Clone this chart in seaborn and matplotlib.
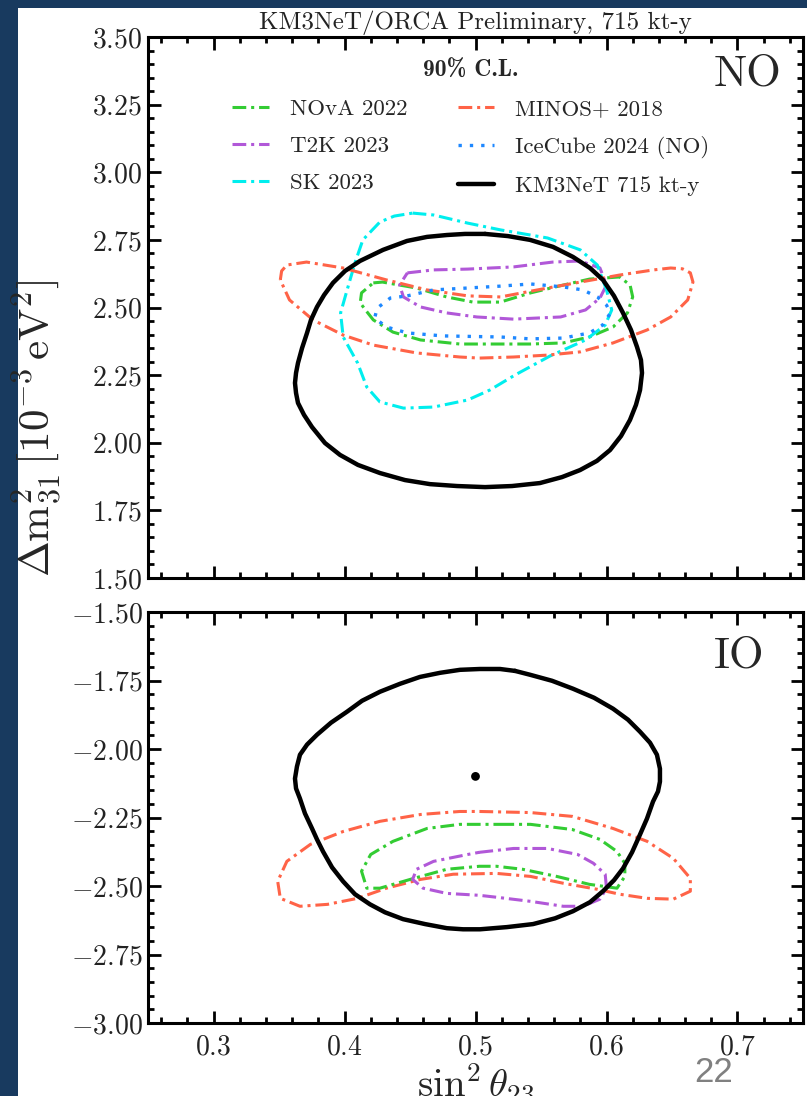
import numpy as np
import matplotlib
matplotlib.use("Agg")
import matplotlib.pyplot as plt
import seaborn as sns
from matplotlib.patches import Rectangle
from matplotlib.ticker import MultipleLocator, FuncFormatter
from matplotlib.font_manager import FontProperties

# ---- 90% C.L. contours (sin^2 theta23, dm^2_31 [1e-3 eV^2]) ----
# Normal ordering
km3_no_x = [0.5073, 0.4920, 0.4782, 0.4630, 0.4477, 0.4294, 0.4118, 0.4004, 0.3912, 0.3844, 0.3790,
            0.3744, 0.3714, 0.3676, 0.3645, 0.3630, 0.3622, 0.3630, 0.3645, 0.3691, 0.3752, 0.3851,
            0.3966, 0.4103, 0.4271, 0.4462, 0.4653, 0.4859, 0.5073, 0.5279, 0.5492, 0.5660, 0.5798,
            0.5927, 0.6027, 0.6111, 0.6179, 0.6225, 0.6256, 0.6271, 0.6263, 0.6233, 0.6187, 0.6126,
            0.6057, 0.5973, 0.5874, 0.5744, 0.5592, 0.5416, 0.5248]
km3_no_y = [2.772, 2.772, 2.768, 2.761, 2.746, 2.713, 2.672, 2.635, 2.591, 2.546, 2.502,
            2.454, 2.406, 2.350, 2.295, 2.258, 2.221, 2.184, 2.147, 2.103, 2.058, 1.999,
            1.955, 1.918, 1.888, 1.862, 1.847, 1.840, 1.836, 1.840, 1.851, 1.873, 1.899,
            1.933, 1.973, 2.025, 2.084, 2.140, 2.195, 2.258, 2.306, 2.354, 2.417, 2.480,
            2.543, 2.602, 2.646, 2.687, 2.724, 2.750, 2.764]

sk_no_x = [0.452, 0.468, 0.494, 0.519, 0.555, 0.580, 0.593, 0.600, 0.604, 0.599, 0.584, 0.557, 0.530,
           0.511, 0.494, 0.468, 0.445, 0.427, 0.417, 0.410, 0.399, 0.397, 0.402, 0.408, 0.414, 0.427,
           0.438]
sk_no_y = [2.849, 2.842, 2.812, 2.787, 2.757, 2.713, 2.657, 2.565, 2.491, 2.435, 2.380, 2.321, 2.250,
           2.195, 2.158, 2.132, 2.128, 2.151, 2.206, 2.295, 2.391, 2.480, 2.565, 2.665, 2.750, 2.816,
           2.838]

minos_no_x = [0.351, 0.352, 0.356, 0.371, 0.399, 0.432, 0.463, 0.494, 0.519, 0.555, 0.580, 0.610, 0.636,
              0.649, 0.658, 0.664, 0.666, 0.662, 0.649, 0.631, 0.605, 0.580, 0.555, 0.529, 0.503, 0.488,
              0.455, 0.422, 0.399, 0.376, 0.358]
minos_no_y = [2.602, 2.635, 2.657, 2.668, 2.646, 2.602, 2.565, 2.543, 2.539, 2.572, 2.594, 2.620, 2.639,
              2.646, 2.643, 2.628, 2.594, 2.528, 2.465, 2.417, 2.369, 2.336, 2.324, 2.317, 2.313, 2.317,
              2.332, 2.361, 2.398, 2.454, 2.528]

nova_no_x = [0.422, 0.429, 0.455, 0.478, 0.498, 0.519, 0.542, 0.567, 0.587, 0.610, 0.618, 0.620, 0.616,
             0.605, 0.587, 0.567, 0.542, 0.516, 0.488, 0.458, 0.437, 0.422, 0.416, 0.412, 0.413]
nova_no_y = [2.591, 2.594, 2.572, 2.539, 2.520, 2.520, 2.554, 2.583, 2.605, 2.613, 2.583, 2.539, 2.480,
             2.428, 2.391, 2.369, 2.365, 2.365, 2.365, 2.380, 2.409, 2.454, 2.491, 2.517, 2.554]

t2k_no_x = [0.448, 0.468, 0.494, 0.529, 0.559, 0.580, 0.595, 0.600, 0.595, 0.584, 0.565, 0.529, 0.501,
            0.478, 0.458, 0.445, 0.442]
t2k_no_y = [2.628, 2.639, 2.642, 2.650, 2.668, 2.672, 2.646, 2.583, 2.535, 2.491, 2.465, 2.457, 2.465,
            2.480, 2.502, 2.539, 2.583]

icecube_no_x = [0.448, 0.468, 0.494, 0.519, 0.542, 0.567, 0.582, 0.593, 0.600, 0.603, 0.597, 0.587, 0.567,
                0.542, 0.519, 0.475, 0.448, 0.432, 0.423, 0.425, 0.435]
icecube_no_y = [2.543, 2.565, 2.572, 2.579, 2.587, 2.576, 2.565, 2.539, 2.509, 2.480, 2.435, 2.406, 2.387,
                2.384, 2.391, 2.395, 2.406, 2.428, 2.461, 2.498, 2.535]

# Inverted ordering
km3_io_x = [0.5302, 0.5187, 0.5034, 0.4882, 0.4729, 0.4576, 0.4424, 0.4271, 0.4134, 0.4019, 0.3897,
            0.3790, 0.3714, 0.3660, 0.3637, 0.3622, 0.3630, 0.3660, 0.3698, 0.3752, 0.3790, 0.3836,
            0.3905, 0.3989, 0.4080, 0.4195, 0.4309, 0.4447, 0.4615, 0.4782, 0.4905, 0.5034, 0.5240,
            0.5439, 0.5607, 0.5744, 0.5874, 0.5973, 0.6057, 0.6126, 0.6195, 0.6256, 0.6309, 0.6355,
            0.6393, 0.6408, 0.6408, 0.6385, 0.6332, 0.6256, 0.6164, 0.6050, 0.5905, 0.5744, 0.5584,
            0.5416]
km3_io_y = [-1.715, -1.708, -1.708, -1.711, -1.722, -1.737, -1.762, -1.791, -1.824, -1.864, -1.904,
            -1.948, -1.984, -2.021, -2.064, -2.108, -2.144, -2.181, -2.235, -2.290, -2.330, -2.374,
            -2.432, -2.483, -2.530, -2.567, -2.596, -2.621, -2.639, -2.654, -2.658, -2.658, -2.650,
            -2.639, -2.618, -2.592, -2.559, -2.519, -2.479, -2.436, -2.377, -2.312, -2.254, -2.192,
            -2.155, -2.119, -2.072, -2.021, -1.977, -1.937, -1.893, -1.853, -1.813, -1.780, -1.751,
            -1.729]
km3_io_best = (0.500, -2.100)

minos_io_x = [0.503, 0.542, 0.574, 0.605, 0.631, 0.651, 0.664, 0.664, 0.651, 0.631, 0.610, 0.593, 0.567,
              0.542, 0.516, 0.483, 0.458, 0.432, 0.410, 0.387, 0.366, 0.351, 0.349, 0.356, 0.374, 0.399,
              0.427, 0.458, 0.488]
minos_io_y = [-2.228, -2.232, -2.246, -2.290, -2.337, -2.399, -2.472, -2.519, -2.548, -2.545, -2.530,
              -2.512, -2.490, -2.465, -2.454, -2.457, -2.476, -2.508, -2.545, -2.567, -2.574, -2.545,
              -2.483, -2.410, -2.348, -2.301, -2.264, -2.239, -2.228]

nova_io_x = [0.519, 0.542, 0.574, 0.595, 0.608, 0.614, 0.614, 0.608, 0.587, 0.562, 0.536, 0.516, 0.503,
             0.478, 0.453, 0.427, 0.417, 0.413, 0.420, 0.437, 0.463, 0.488]
nova_io_y = [-2.275, -2.275, -2.294, -2.330, -2.374, -2.417, -2.465, -2.508, -2.494, -2.465, -2.439,
             -2.428, -2.428, -2.439, -2.472, -2.508, -2.508, -2.446, -2.385, -2.337, -2.290, -2.275]

t2k_io_x = [0.503, 0.529, 0.555, 0.578, 0.590, 0.599, 0.600, 0.595, 0.582, 0.567, 0.542, 0.516, 0.503,
            0.478, 0.460, 0.452, 0.455, 0.468, 0.494]
t2k_io_y = [-2.377, -2.363, -2.363, -2.385, -2.417, -2.457, -2.508, -2.548, -2.574, -2.574, -2.556,
            -2.541, -2.534, -2.527, -2.508, -2.476, -2.439, -2.410, -2.385]

x_ticks = [0.3, 0.4, 0.5, 0.6, 0.7]
title_text = "KM3NeT/ORCA Preliminary, 715 kt-y"

# ---- style ----
sns.set_theme(style="ticks")
plt.rcParams["font.family"] = "serif"
plt.rcParams["font.serif"] = ["cmr10"]
plt.rcParams["mathtext.fontset"] = "cm"
plt.rcParams["axes.formatter.use_mathtext"] = True

dashdot = (0, (4.5, 1.6, 1, 1.6))
styles = {
    "nova": dict(color="#33cc33", lw=2.2, linestyle=dashdot, label="NOvA 2022"),
    "t2k": dict(color="#b158d8", lw=2.2, linestyle=dashdot, label="T2K 2023"),
    "sk": dict(color="#00eeee", lw=2.2, linestyle=dashdot, label="SK 2023"),
    "minos": dict(color="#ff6347", lw=2.2, linestyle=dashdot, label="MINOS+ 2018"),
    "icecube": dict(color="#1e88ff", lw=2.4, linestyle=(0, (1, 2.4)), label="IceCube 2024 (NO)"),
    "km3": dict(color="black", lw=3.2, linestyle="-", label="KM3NeT 715 kt-y"),
}


def contour(ax, xs, ys, key):
    x = np.append(xs, xs[0])
    y = np.append(ys, ys[0])
    sns.lineplot(x=x, y=y, sort=False, estimator=None, ax=ax, legend=False,
                 solid_joinstyle="round", **styles[key])


fig = plt.figure(figsize=(8.07, 10.96), dpi=100)
fig.patch.set_facecolor("#183a5f")
fig.add_artist(Rectangle((18 / 807, 0), 1, 1 - 8 / 1096, transform=fig.transFigure,
                         facecolor="white", edgecolor="none", zorder=-10))

ax1 = fig.add_axes([148 / 807, 1 - 578 / 1096, 655 / 807, 541 / 1096])
ax2 = fig.add_axes([148 / 807, 1 - 1023 / 1096, 655 / 807, 411 / 1096])

contour(ax1, nova_no_x, nova_no_y, "nova")
contour(ax1, t2k_no_x, t2k_no_y, "t2k")
contour(ax1, sk_no_x, sk_no_y, "sk")
contour(ax1, minos_no_x, minos_no_y, "minos")
contour(ax1, icecube_no_x, icecube_no_y, "icecube")
contour(ax1, km3_no_x, km3_no_y, "km3")

contour(ax2, minos_io_x, minos_io_y, "minos")
contour(ax2, nova_io_x, nova_io_y, "nova")
contour(ax2, t2k_io_x, t2k_io_y, "t2k")
contour(ax2, km3_io_x, km3_io_y, "km3")
sns.scatterplot(x=[km3_io_best[0]], y=[km3_io_best[1]], color="black", s=40, ax=ax2,
                zorder=5, edgecolor="none", legend=False)
if ax2.get_legend() is not None:
    ax2.get_legend().remove()

ax1.set_ylim(1.5, 3.5)
ax2.set_ylim(-3.0, -1.5)
for ax in (ax1, ax2):
    ax.set_xlim(0.25, 0.75)
    ax.set_xticks(x_ticks)
    ax.xaxis.set_minor_locator(MultipleLocator(0.02))
    ax.yaxis.set_major_locator(MultipleLocator(0.25))
    ax.yaxis.set_minor_locator(MultipleLocator(0.05))
    ax.xaxis.set_major_formatter(FuncFormatter(lambda v, p: r"$%.1f$" % v))
    ax.yaxis.set_major_formatter(FuncFormatter(lambda v, p: r"$%.2f$" % v))
    ax.tick_params(which="both", direction="in", top=True, right=True, width=2.0,
                   color="black", labelsize=20, labelcolor="#222222")
    ax.tick_params(which="major", length=9)
    ax.tick_params(which="minor", length=4.5)
    ax.tick_params(axis="y", pad=4)
    ax.tick_params(axis="x", pad=8)
    for s in ax.spines.values():
        s.set_linewidth(2.2)
        s.set_color("black")
    ax.set_xlabel("")
    ax.set_ylabel("")
ax1.tick_params(labelbottom=False)

ax1.set_title(title_text, fontsize=18, pad=6, color="#222222")
ax1.text(0.864, 0.967, "NO", transform=ax1.transAxes, fontsize=32, ha="left", va="top")
ax2.text(0.864, 0.94, "IO", transform=ax2.transAxes, fontsize=32, ha="left", va="top")

handles = ax1.get_lines()
leg = ax1.legend(handles=handles, labels=[h.get_label() for h in handles], ncol=2,
                 loc="upper left", bbox_to_anchor=(0.115, 0.975), frameon=False, fontsize=16.5,
                 title="90% C.L.", title_fontproperties=FontProperties(family="cmb10", size=17),
                 handlelength=1.6, handletextpad=0.9, columnspacing=2.2, labelspacing=0.74,
                 borderaxespad=0)

ax2.set_xlabel(r"$\sin^2\theta_{23}$", fontsize=28, labelpad=1)
fig.text(38 / 807, 1 - 428 / 1096, r"$\Delta\mathrm{m}^2_{31}\,[10^{-3}\,\mathrm{eV}^2]$",
         rotation=90, ha="center", va="center", fontsize=31)
fig.text(714 / 807, 1 - 1073 / 1096, "22", color="#808080", fontsize=25,
         family="Liberation Sans", ha="center", va="center")

fig.savefig("out.png", dpi=100, facecolor=fig.get_facecolor())
